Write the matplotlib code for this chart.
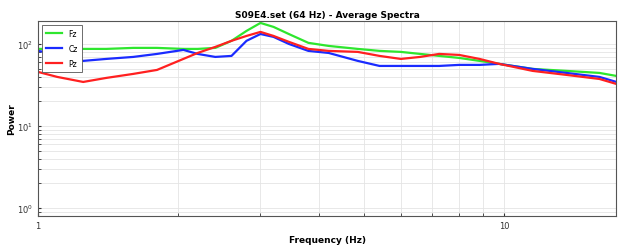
import numpy as np
import matplotlib
matplotlib.use("Agg")
import matplotlib.pyplot as plt
from matplotlib.ticker import ScalarFormatter, NullFormatter, LogLocator

# frequency (Hz) and average power per channel
freqs = [1.0, 1.1, 1.25, 1.4, 1.6, 1.8, 2.05, 2.2, 2.4, 2.6, 2.8, 3.0, 3.2, 3.45,
         3.8, 4.2, 4.85, 5.4, 6.0, 6.6, 7.25, 8.0, 8.85, 9.75, 11.5, 13.6, 16.0, 17.4]
fz = [86.9, 86.9, 86.9, 86.9, 89.4, 89.4, 86.9, 86.9, 89.4, 109, 144, 180, 161, 132,
      103, 94.5, 86.9, 82.2, 79.9, 75.5, 71.4, 67.5, 62.1, 57.1, 49.6, 46.9, 44.3, 40.7]
cz = [82.2, 75.5, 62.1, 65.6, 69.4, 75.5, 84.5, 75.5, 69.4, 71.4, 109, 132, 121.7, 100,
      82.2, 77.6, 62.1, 53.9, 53.9, 53.9, 53.9, 55.5, 55.5, 57.1, 49.6, 44.3, 39.6, 34.4]
pz = [45.6, 39.6, 34.4, 38.5, 43.1, 48.2, 65.6, 77.6, 91.9, 109, 125, 140, 125, 106,
      86.9, 82.2, 79.9, 71.4, 65.6, 69.4, 75.5, 73.4, 65.6, 57.1, 46.9, 41.9, 37.4, 32.5]
channels = ["Fz", "Cz", "Pz"]
colors = ["#2ee62e", "#1a2bff", "#ff2020"]

fig = plt.figure(figsize=(6.18, 2.53), dpi=100)
ax = fig.add_axes([0.0615, 0.142, 0.936, 0.771])

for vals, name, c in zip([fz, cz, pz], channels, colors):
    ax.plot(freqs, vals, color=c, lw=1.6, label=name)

ax.set_xscale("log")
ax.set_yscale("log")
ax.set_xlim(1, 17.4)
ax.set_ylim(0.8, 190)
ax.set_xticks([1, 10])
ax.xaxis.set_major_formatter(ScalarFormatter())
ax.xaxis.set_minor_formatter(NullFormatter())
ax.yaxis.set_major_locator(LogLocator(base=10, numticks=5))

ax.grid(True, which="both", color="#e4e4e4", lw=0.6)
ax.set_axisbelow(True)
for s in ax.spines.values():
    s.set_color("#555555")
    s.set_linewidth(0.8)
ax.tick_params(which="both", direction="in", labelsize=6, colors="#333333", length=2)

ax.set_title("S09E4.set (64 Hz) - Average Spectra", fontsize=6.5, fontweight="bold", pad=3)
ax.set_xlabel("Frequency (Hz)", fontsize=6.5, fontweight="bold", labelpad=4)
ax.set_ylabel("Power", fontsize=6.5, fontweight="bold", labelpad=1)

leg = ax.legend(loc="upper left", fontsize=5.5, handlelength=2.2, borderpad=0.5,
                labelspacing=0.8, fancybox=False, framealpha=1, edgecolor="#555555")
leg.get_frame().set_linewidth(0.6)

fig.savefig("out.png", dpi=100)
